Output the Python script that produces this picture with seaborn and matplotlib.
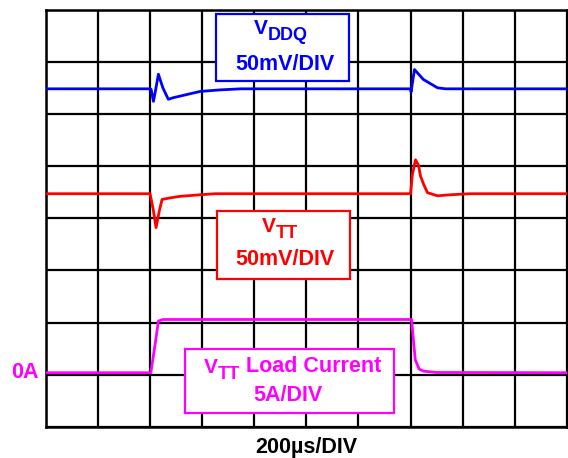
import numpy as np
import pandas as pd
import matplotlib
matplotlib.use("Agg")
import matplotlib.pyplot as plt
from matplotlib.patches import Rectangle
import seaborn as sns

# Scope capture: time in microseconds, traces in screen divisions (0 = bottom graticule line)
vddq_t = [0, 400, 405, 414, 422, 433, 450, 471, 490, 516, 550, 593, 670, 750,
          1400, 1402, 1415, 1449, 1476, 1503, 1534, 2000]
vddq_div = [6.48, 6.48, 6.47, 6.24, 6.45, 6.76, 6.50, 6.28, 6.31, 6.34, 6.38, 6.43, 6.46, 6.48,
            6.48, 6.42, 6.85, 6.66, 6.58, 6.50, 6.48, 6.48]

vtt_t = [0, 401, 413, 424, 436, 447, 478, 516, 593, 651,
         1400, 1407, 1419, 1431, 1438, 1451, 1465, 1503, 1553, 1630, 2000]
vtt_div = [4.47, 4.47, 4.17, 3.82, 4.13, 4.36, 4.39, 4.42, 4.45, 4.47,
           4.47, 4.84, 5.12, 5.01, 4.81, 4.64, 4.49, 4.43, 4.45, 4.47, 4.47]

iload_t = [0, 404, 420, 433, 451, 1404, 1412, 1418, 1433, 1450, 1500, 2000]
iload_div = [1.04, 1.04, 1.57, 2.03, 2.06, 2.06, 1.61, 1.29, 1.11, 1.07, 1.045, 1.04]

x_divs = np.arange(0, 2001, 200)
y_divs = np.arange(0, 9, 1)

BLUE = "#0000ff"
RED = "#ff0000"
MAGENTA = "#ff00ff"
FS = 15.5

sns.set_style("white")
plt.rcParams["font.family"] = ["Liberation Sans", "DejaVu Sans"]
plt.rcParams["font.weight"] = "bold"

W, H = 568, 458
fig = plt.figure(figsize=(W / 100, H / 100), dpi=100)
L, R, T, B = 45.5, 567, 9.5, 427
ax = fig.add_axes([L / W, 1 - B / H, (R - L) / W, (B - T) / H])


def px(x, y):
    """pixel position in the image -> axes fraction"""
    return (x - L) / (R - L), (B - y) / (B - T)


traces = [(vddq_t, vddq_div, BLUE), (vtt_t, vtt_div, RED), (iload_t, iload_div, MAGENTA)]
for t, v, c in traces:
    sns.lineplot(x=t, y=v, color=c, lw=2.0, ax=ax, sort=False, estimator=None, zorder=3)

ax.set_xlim(0, 2000)
ax.set_ylim(0, 8)
ax.set_xticks(x_divs)
ax.set_yticks(y_divs)
ax.grid(True, color="black", lw=1.6)
ax.tick_params(length=0, labelbottom=False, labelleft=False)
for s in ax.spines.values():
    s.set_color("black")
    s.set_linewidth(1.8)
ax.set_xlabel("200\u00b5s/DIV", fontsize=FS, fontweight="bold", color="black", labelpad=7)

# annotation boxes
boxes = [((216, 14, 349, 81), BLUE), ((217, 211, 350, 279), RED), ((185, 349, 394, 413), MAGENTA)]
for (x0, y0, x1, y1), c in boxes:
    ax0, ay0 = px(x0, y1)
    ax1, ay1 = px(x1, y0)
    ax.add_patch(Rectangle((ax0, ay0), ax1 - ax0, ay1 - ay0, transform=ax.transAxes,
                           facecolor="white", edgecolor=c, lw=1.6, zorder=4, clip_on=False))


def v_label(x, y, sub, rest, c):
    tx, ty = px(x, y)
    v = ax.text(tx, ty, "V", transform=ax.transAxes, color=c, fontsize=15,
                fontweight="bold", ha="left", va="baseline", zorder=5)
    s = ax.annotate(sub, xy=(1, 0), xycoords=v, xytext=(0, -4), textcoords="offset points",
                    color=c, fontsize=13, fontweight="bold", ha="left", va="bottom", zorder=5)
    if rest:
        ax.annotate(rest, xy=(1, 0), xycoords=s, xytext=(0, 4), textcoords="offset points",
                    color=c, fontsize=FS, fontweight="bold", ha="left", va="bottom", zorder=5)


v_label(254, 34, "DDQ", None, BLUE)
v_label(262, 232, "TT", None, RED)
v_label(204, 373, "TT", " Load Current", MAGENTA)

for x, y, s, c in [(284.5, 70, "50mV/DIV", BLUE), (284.5, 265, "50mV/DIV", RED),
                   (288, 401, "5A/DIV", MAGENTA)]:
    tx, ty = px(x, y)
    ax.text(tx, ty, s, transform=ax.transAxes, color=c, fontsize=FS, fontweight="bold",
            ha="center", va="baseline", zorder=5)

# zero reference for the current trace
ax.text(-0.014, iload_div[0], "0A", transform=ax.get_yaxis_transform(), color=MAGENTA,
        fontsize=FS, fontweight="bold", ha="right", va="center", clip_on=False)

fig.savefig("out.png", dpi=100)
